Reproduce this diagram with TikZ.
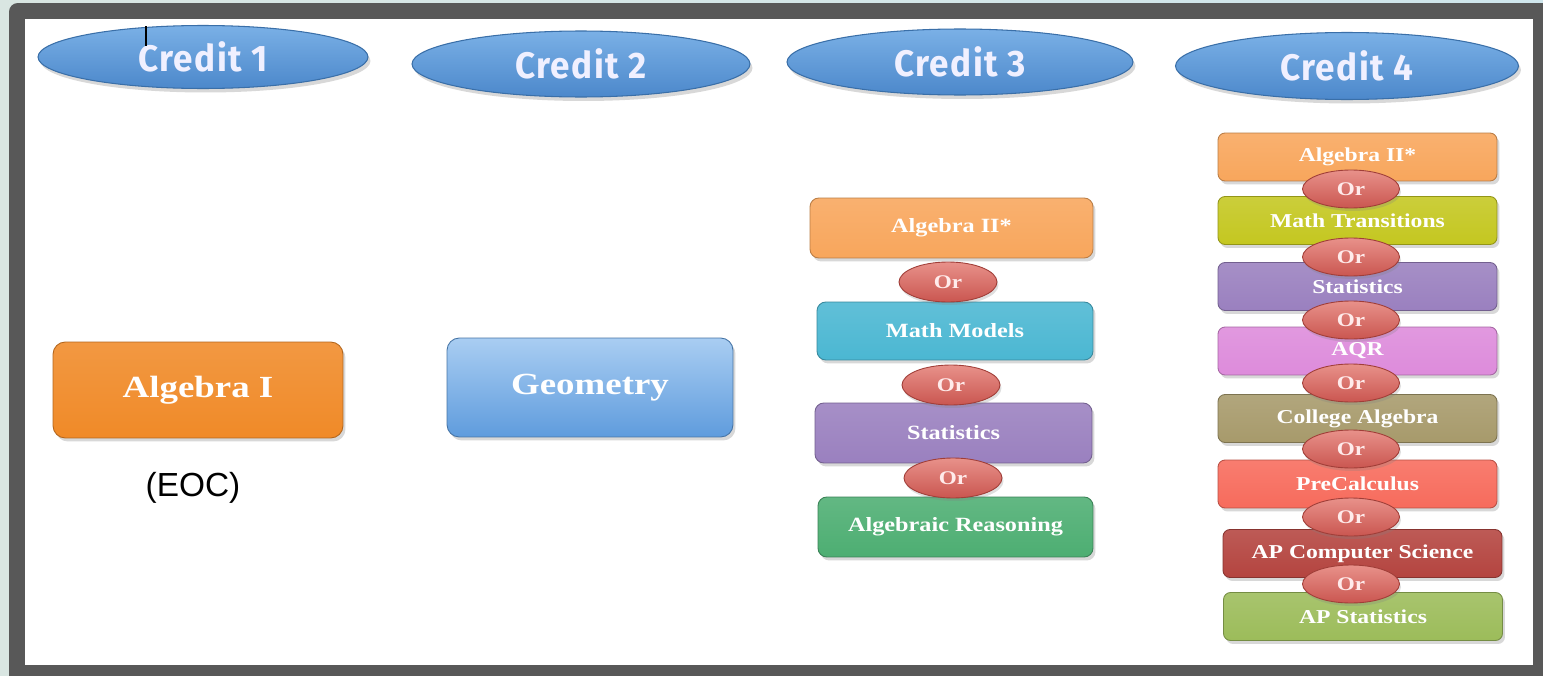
\documentclass[tikz,border=0pt]{standalone}
\usepackage{fontspec}
\setmainfont{Liberation Serif}
\newfontfamily\creditfont[LetterSpace=4,FakeStretch=0.95]{Fira Sans}
\newfontfamily\boxfont[FakeStretch=1.2]{Liberation Serif}
\newfontfamily\plainsans{Liberation Sans}
\usetikzlibrary{shapes.geometric,shadows}

\definecolor{BgL}{HTML}{D9E6E2}
\definecolor{BgM}{HTML}{EFEDB8}
\definecolor{BgR}{HTML}{CFE6EC}
\definecolor{FrameGray}{HTML}{585858}
\definecolor{CreditTop}{HTML}{7AB0E6}
\definecolor{CreditBot}{HTML}{4C88CB}
\definecolor{CreditEdge}{HTML}{3A6FA8}
\definecolor{OrTop}{HTML}{E8918A}
\definecolor{OrBot}{HTML}{CA5650}
\definecolor{OrEdge}{HTML}{A03E38}
\definecolor{cAlgI}{HTML}{F08A28}
\definecolor{cGeoTop}{HTML}{A9CDF2}
\definecolor{cGeoBot}{HTML}{5F9CDD}
\definecolor{cAlgII}{HTML}{F8A65C}
\definecolor{cModels}{HTML}{4BB7D2}
\definecolor{cStats}{HTML}{9A80BF}
\definecolor{cReason}{HTML}{4DAE72}
\definecolor{cTrans}{HTML}{C4C720}
\definecolor{cAQR}{HTML}{DD8BDB}
\definecolor{cCollege}{HTML}{A79A6B}
\definecolor{cPreCalc}{HTML}{F76B5C}
\definecolor{cAPCS}{HTML}{B4443F}
\definecolor{cAPStat}{HTML}{9CBC5A}

\tikzset{
  credit/.style={ellipse, inner sep=0pt, draw=CreditEdge, line width=0.6pt,
    top color=CreditTop, bottom color=CreditBot, text=white!94!blue,
    font=\creditfont\bfseries\fontsize{21}{24}\selectfont,
    drop shadow={opacity=0.3, shadow xshift=0.5mm, shadow yshift=-0.8mm}},
  course/.style={rectangle, rounded corners=4pt, inner sep=0pt,
    draw=#1!75!black, line width=0.5pt, top color=#1!88!white, bottom color=#1,
    text=white, minimum width=5.58cm, minimum height=0.96cm,
    font=\boxfont\bfseries\fontsize{11.2}{13}\selectfont,
    drop shadow={opacity=0.3, shadow xshift=0.5mm, shadow yshift=-0.7mm}},
  bigcourse/.style={course=#1, rounded corners=7pt,
    font=\boxfont\bfseries\fontsize{17.5}{20}\selectfont},
  midcourse/.style={course=#1, rounded corners=5pt,
    font=\boxfont\bfseries\fontsize{11.5}{13}\selectfont},
  orbub/.style={ellipse, inner sep=0pt, draw=OrEdge, line width=0.5pt,
    top color=OrTop, bottom color=OrBot, text=white!92!red,
    minimum width=1.96cm, minimum height=0.8cm,
    font=\boxfont\bfseries\fontsize{11}{12}\selectfont,
    drop shadow={opacity=0.25, shadow xshift=0.3mm, shadow yshift=-0.6mm}},
  note/.style={font=\plainsans\fontsize{19}{22}\selectfont, text=black, inner sep=0pt}
}

\begin{document}
\begin{tikzpicture}[x=0.02cm, y=-0.02cm]
\useasboundingbox (0,0) rectangle (1543,676);
\clip (0,0) rectangle (1543,676);
% background strip and frame
\shade[left color=BgL, middle color=BgM, right color=BgR] (0,0) rectangle (1543,676);
\fill[FrameGray, rounded corners=5pt] (9,3) rectangle (1560,700);
\fill[white] (25,19) rectangle (1533,665);

% credit headers
\node[credit, minimum width=6.6cm, minimum height=1.26cm] (c1) at (203,57) {Credit 1};
\node[credit, minimum width=6.76cm, minimum height=1.32cm] (c2) at (581,64) {Credit 2};
\node[credit, minimum width=6.92cm, minimum height=1.32cm] (c3) at (960,62) {Credit 3};
\node[credit, minimum width=6.86cm, minimum height=1.34cm] (c4) at (1347,66) {Credit 4};
\draw[black, line width=0.6pt] (146,26) -- (146,46);

% credit 1
\node[bigcourse=cAlgI, minimum width=5.8cm, minimum height=1.92cm] (alg1) at (198,390) {Algebra I};
\node[note] (eoc) at (193,488) {(EOC)};

% credit 2
\node[bigcourse=cGeoBot, top color=cGeoTop, bottom color=cGeoBot,
      minimum width=5.72cm, minimum height=1.98cm] (geo) at (590,387.5) {Geometry};

% credit 3
\node[midcourse=cAlgII, minimum width=5.66cm, minimum height=1.2cm] (t3a) at (951.5,228) {Algebra II*};
\node[midcourse=cModels, minimum width=5.52cm, minimum height=1.16cm] (t3b) at (955,331) {Math Models};
\node[midcourse=cStats, minimum width=5.54cm, minimum height=1.2cm] (t3c) at (953.5,433) {Statistics};
\node[midcourse=cReason, minimum width=5.5cm, minimum height=1.2cm] (t3d) at (955.5,527) {Algebraic Reasoning};
\node[orbub] (o3a) at (948,282) {Or};
\node[orbub] (o3b) at (951,385) {Or};
\node[orbub] (o3c) at (953,478) {Or};

% credit 4
\node[course=cAlgII] (f1) at (1357.5,157) {Algebra II*};
\node[course=cTrans] (f2) at (1357.5,220.5) {Math Transitions};
\node[course=cStats] (f3) at (1357.5,286.5) {Statistics};
\node[course=cAQR] (f4) at (1357.5,351) {AQR};
\node[course=cCollege] (f5) at (1357.5,418.5) {College Algebra};
\node[course=cPreCalc] (f6) at (1357.5,484) {PreCalculus};
\node[course=cAPCS] (f7) at (1362.5,553.5) {AP Computer Science};
\node[course=cAPStat] (f8) at (1363,616.5) {AP Statistics};
\node[orbub, minimum width=1.94cm, minimum height=0.76cm] (o4a) at (1351,189) {Or};
\node[orbub, minimum width=1.94cm, minimum height=0.76cm] (o4b) at (1351,257) {Or};
\node[orbub, minimum width=1.94cm, minimum height=0.76cm] (o4c) at (1351,320) {Or};
\node[orbub, minimum width=1.94cm, minimum height=0.76cm] (o4d) at (1351,383) {Or};
\node[orbub, minimum width=1.94cm, minimum height=0.76cm] (o4e) at (1351,449) {Or};
\node[orbub, minimum width=1.94cm, minimum height=0.76cm] (o4f) at (1351,517) {Or};
\node[orbub, minimum width=1.94cm, minimum height=0.76cm] (o4g) at (1351,584) {Or};
\end{tikzpicture}
\end{document}
